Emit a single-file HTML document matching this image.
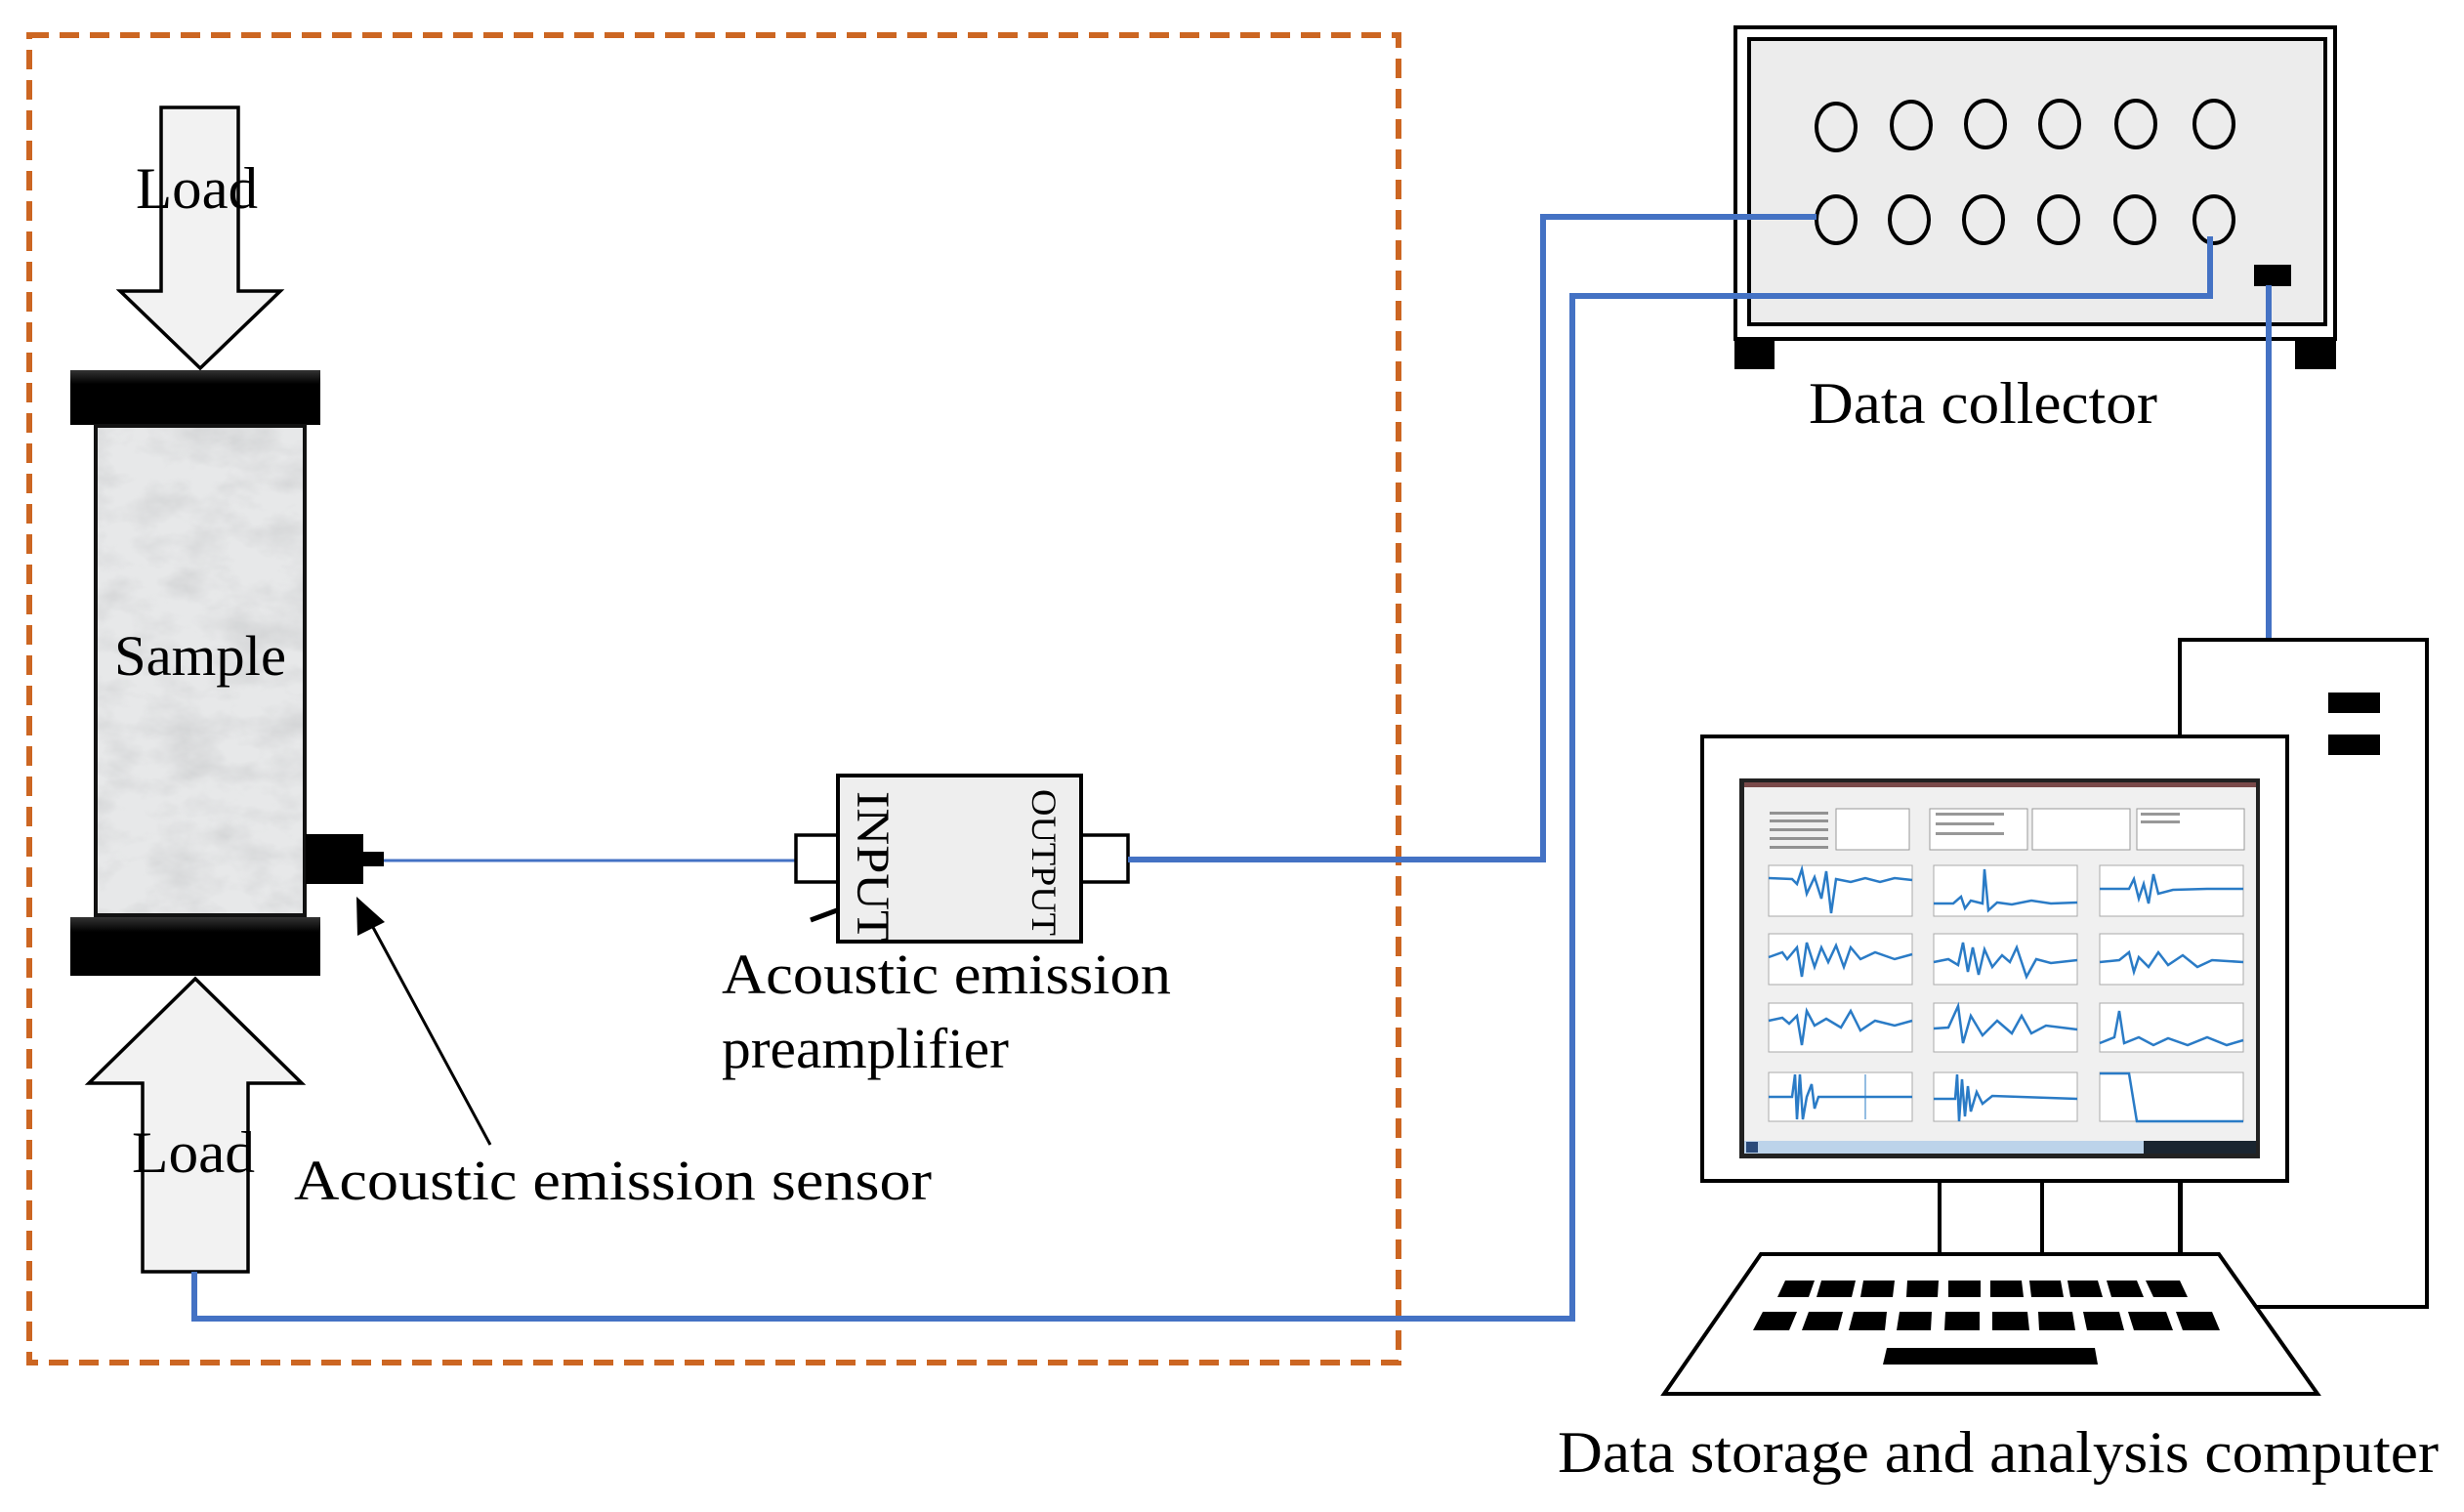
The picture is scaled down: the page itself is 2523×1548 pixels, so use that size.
<!DOCTYPE html>
<html><head><meta charset="utf-8"><style>
html,body{margin:0;padding:0;background:#fff;}
svg{display:block;}
text{font-family:"Liberation Serif",serif;fill:#000;}
</style></head><body>
<svg width="2523" height="1548" viewBox="0 0 2523 1548" xmlns="http://www.w3.org/2000/svg">
<defs>
<filter id="marble" x="0" y="0" width="100%" height="100%">
<feTurbulence type="fractalNoise" baseFrequency="0.018 0.03" numOctaves="4" seed="3"/>
<feColorMatrix type="matrix" values="0 0 0 0 0.45  0 0 0 0 0.46  0 0 0 0 0.47  1.4 0 0 0 -0.55"/>
</filter>
<linearGradient id="plate" x1="0" y1="0" x2="0" y2="1">
<stop offset="0" stop-color="#333"/><stop offset="0.25" stop-color="#000"/><stop offset="1" stop-color="#000"/>
</linearGradient>
</defs>

<!-- dashed box -->
<rect x="30" y="36" width="1402" height="1359" fill="none" stroke="#CC6622" stroke-width="6" stroke-dasharray="20,11"/>

<!-- top arrow -->
<polygon points="165,110 244,110 244,298 287,298 205,377 123,298 165,298" fill="#f2f2f2" stroke="#000" stroke-width="3.5"/>
<text x="139" y="213" font-size="60" textLength="125" lengthAdjust="spacingAndGlyphs">Load</text>

<!-- plates & sample -->
<rect x="72" y="379" width="256" height="56" fill="url(#plate)"/>
<rect x="98" y="436" width="214" height="501" fill="#e7e8e9" stroke="#111" stroke-width="4"/>
<rect x="100" y="438" width="210" height="497" fill="#000" filter="url(#marble)" opacity="0.55"/>
<rect x="72" y="939" width="256" height="60" fill="url(#plate)"/>
<text x="117" y="691" font-size="58" textLength="176" lengthAdjust="spacingAndGlyphs">Sample</text>

<!-- bottom arrow -->
<polygon points="200,1002 309,1109 254,1109 254,1302 146,1302 146,1109 91,1109" fill="#f2f2f2" stroke="#000" stroke-width="3.5"/>
<text x="135" y="1200" font-size="60" textLength="126" lengthAdjust="spacingAndGlyphs">Load</text>

<!-- sensor -->
<rect x="313" y="854" width="59" height="51" fill="#000"/>
<rect x="370" y="872" width="23" height="15" fill="#000"/>
<line x1="393" y1="881" x2="815" y2="881" stroke="#4472C4" stroke-width="3"/>

<!-- sensor arrow -->
<line x1="502" y1="1172" x2="378" y2="942" stroke="#000" stroke-width="3"/>
<polygon points="365,918 394,944 366,958" fill="#000"/>
<text x="301" y="1228" font-size="58" textLength="653" lengthAdjust="spacingAndGlyphs">Acoustic emission sensor</text>

<!-- preamp -->
<rect x="815" y="855" width="43" height="48" fill="#fff" stroke="#000" stroke-width="3.5"/>
<rect x="1107" y="855" width="48" height="48" fill="#fff" stroke="#000" stroke-width="3.5"/>
<rect x="858" y="794" width="249" height="170" fill="#eeeeee" stroke="#000" stroke-width="4"/>
<line x1="830" y1="942" x2="857" y2="932" stroke="#000" stroke-width="5"/>
<text transform="translate(878,810) rotate(90)" font-size="48" textLength="154" lengthAdjust="spacingAndGlyphs">INPUT</text>
<text transform="translate(1057,808) rotate(90)" font-size="36" textLength="150" lengthAdjust="spacingAndGlyphs">OUTPUT</text>
<text x="739" y="1017" font-size="58" textLength="460" lengthAdjust="spacingAndGlyphs">Acoustic emission</text>
<text x="739" y="1093" font-size="58" textLength="294" lengthAdjust="spacingAndGlyphs">preamplifier</text>

<!-- data collector -->
<rect x="1777" y="28" width="614" height="319" fill="#fff" stroke="#000" stroke-width="4"/>
<rect x="1791" y="40" width="590" height="292" fill="#ececec" stroke="#000" stroke-width="4"/>
<rect x="1776" y="347" width="41" height="31" fill="#000"/>
<rect x="2350" y="347" width="42" height="31" fill="#000"/>
<g fill="none" stroke="#000" stroke-width="4">
<ellipse cx="1880" cy="130" rx="20" ry="24"/><ellipse cx="1957" cy="128" rx="20" ry="24"/><ellipse cx="2033" cy="127" rx="20" ry="24"/><ellipse cx="2109" cy="127" rx="20" ry="24"/><ellipse cx="2187" cy="127" rx="20" ry="24"/><ellipse cx="2267" cy="127" rx="20" ry="24"/>
<ellipse cx="1880" cy="225" rx="20" ry="24"/><ellipse cx="1955" cy="225" rx="20" ry="24"/><ellipse cx="2031" cy="225" rx="20" ry="24"/><ellipse cx="2108" cy="225" rx="20" ry="24"/><ellipse cx="2186" cy="225" rx="20" ry="24"/><ellipse cx="2267" cy="225" rx="20" ry="24"/>
</g>
<rect x="2308" y="271" width="38" height="22" fill="#000"/>
<text x="1852" y="433" font-size="60" textLength="357" lengthAdjust="spacingAndGlyphs">Data collector</text>

<!-- blue cables (on top) -->
<polyline points="1155,880 1580,880 1580,222 1860,222" fill="none" stroke="#4472C4" stroke-width="6"/>
<polyline points="199,1302 199,1350 1610,1350 1610,303 2263,303 2263,242" fill="none" stroke="#4472C4" stroke-width="6"/>
<line x1="2323" y1="292" x2="2323" y2="655" stroke="#4472C4" stroke-width="6"/>

<!-- tower -->
<rect x="2232" y="655" width="253" height="683" fill="#fff" stroke="#000" stroke-width="4"/>
<rect x="2384" y="709" width="53" height="21" fill="#000"/>
<rect x="2384" y="752" width="53" height="21" fill="#000"/>

<!-- monitor -->
<rect x="1743" y="754" width="599" height="455" fill="#fff" stroke="#000" stroke-width="4"/>
<line x1="1986" y1="1209" x2="1986" y2="1285" stroke="#000" stroke-width="4"/>
<line x1="2091" y1="1209" x2="2091" y2="1285" stroke="#000" stroke-width="4"/>
<line x1="2233" y1="1209" x2="2233" y2="1285" stroke="#000" stroke-width="4"/>

<!-- screen -->
<rect x="1781" y="797" width="533" height="389" fill="#222"/>
<rect x="1786" y="801" width="524" height="380" fill="#f0f0f0"/>
<rect x="1786" y="801" width="524" height="5" fill="#7a4a4a"/>
<g fill="#fff" stroke="#999" stroke-width="1">
<rect x="1880" y="828" width="75" height="42"/><rect x="1976" y="828" width="100" height="42"/><rect x="2081" y="828" width="100" height="42"/><rect x="2188" y="828" width="110" height="42"/>
</g>
<g fill="#555" opacity="0.6">
<rect x="1812" y="831" width="60" height="3"/><rect x="1812" y="839" width="60" height="3"/><rect x="1812" y="848" width="60" height="3"/><rect x="1812" y="857" width="60" height="3"/><rect x="1812" y="866" width="60" height="3"/>
<rect x="1982" y="832" width="70" height="3"/><rect x="1982" y="842" width="60" height="3"/><rect x="1982" y="852" width="70" height="3"/><rect x="2192" y="832" width="40" height="3"/><rect x="2192" y="840" width="40" height="3"/>
</g>
<g fill="#fff" stroke="#aaa" stroke-width="1">
<rect x="1811" y="886" width="147" height="52"/><rect x="1980" y="886" width="147" height="52"/><rect x="2150" y="886" width="147" height="52"/>
<rect x="1811" y="956" width="147" height="52"/><rect x="1980" y="956" width="147" height="52"/><rect x="2150" y="956" width="147" height="52"/>
<rect x="1811" y="1027" width="147" height="50"/><rect x="1980" y="1027" width="147" height="50"/><rect x="2150" y="1027" width="147" height="50"/>
<rect x="1811" y="1098" width="147" height="50"/><rect x="1980" y="1098" width="147" height="50"/><rect x="2150" y="1098" width="147" height="50"/>
</g>
<g fill="none" stroke="#2a7bc6" stroke-width="2.5">
<polyline points="1811,899 1835,900 1840,905 1845,890 1850,915 1858,898 1865,920 1870,892 1875,935 1880,900 1895,903 1910,899 1925,903 1940,899 1958,901"/>
<polyline points="1980,925 2000,925 2008,918 2012,930 2018,922 2030,925 2032,890 2036,932 2045,924 2060,926 2080,922 2100,925 2127,924"/>
<polyline points="2150,910 2180,910 2185,900 2190,920 2195,905 2200,925 2205,895 2210,915 2225,911 2260,910 2297,910"/>
<polyline points="1811,980 1825,975 1830,982 1840,970 1845,1000 1850,965 1858,990 1865,970 1872,985 1880,968 1888,990 1895,970 1905,982 1920,975 1940,982 1958,977"/>
<polyline points="1980,985 1995,982 2005,988 2010,965 2015,995 2020,970 2026,998 2032,972 2040,990 2050,978 2058,985 2065,970 2075,1000 2085,982 2100,986 2127,983"/>
<polyline points="2150,985 2170,983 2180,975 2185,995 2190,980 2200,990 2210,975 2220,988 2235,978 2250,990 2265,983 2297,985"/>
<polyline points="1811,1045 1825,1042 1832,1048 1840,1040 1845,1070 1850,1035 1858,1050 1870,1043 1885,1052 1895,1035 1905,1055 1920,1045 1940,1050 1958,1045"/>
<polyline points="1980,1053 1995,1052 2005,1030 2010,1068 2018,1040 2030,1060 2045,1045 2060,1058 2070,1040 2080,1058 2095,1050 2127,1054"/>
<polyline points="2150,1068 2165,1062 2170,1035 2175,1068 2190,1062 2205,1070 2220,1063 2240,1070 2260,1062 2280,1070 2297,1065"/>
<polyline points="1811,1123 1835,1123 1838,1100 1840,1146 1843,1100 1846,1146 1850,1123 1855,1110 1858,1135 1862,1123 1958,1123"/>
<line x1="1910" y1="1100" x2="1910" y2="1146" stroke-width="1"/>
<polyline points="1980,1125 2002,1125 2004,1100 2006,1148 2009,1105 2012,1143 2015,1112 2018,1138 2024,1118 2030,1130 2040,1122 2127,1125"/>
<polyline points="2150,1099 2180,1099 2188,1148 2297,1148"/>
</g>
<rect x="1786" y="1168" width="524" height="13" fill="#bcd3ea"/>
<rect x="2195" y="1168" width="115" height="13" fill="#1a2530"/>
<rect x="1788" y="1169" width="12" height="11" fill="#2a4a7a"/>

<!-- keyboard -->
<polygon points="1803,1284 2272,1284 2373,1427 1704,1427" fill="#fff" stroke="#000" stroke-width="4"/>
<g fill="#000">
<polygon points="1828,1311 1858,1311 1852,1328 1820,1328"/>
<polygon points="1865,1311 1900,1311 1896,1328 1860,1328"/>
<polygon points="1908,1311 1940,1311 1938,1328 1905,1328"/>
<polygon points="1953,1311 1985,1311 1984,1328 1952,1328"/>
<polygon points="1995,1311 2028,1311 2028,1328 1995,1328"/>
<polygon points="2038,1311 2070,1311 2072,1328 2038,1328"/>
<polygon points="2078,1311 2110,1311 2113,1328 2080,1328"/>
<polygon points="2117,1311 2148,1311 2153,1328 2120,1328"/>
<polygon points="2157,1311 2188,1311 2195,1328 2162,1328"/>
<polygon points="2197,1311 2232,1311 2240,1328 2205,1328"/>
<polygon points="1805,1343 1840,1343 1832,1362 1795,1362"/>
<polygon points="1852,1343 1887,1343 1882,1362 1845,1362"/>
<polygon points="1898,1343 1932,1343 1930,1362 1893,1362"/>
<polygon points="1945,1343 1978,1343 1977,1362 1942,1362"/>
<polygon points="1992,1343 2027,1343 2027,1362 1991,1362"/>
<polygon points="2040,1343 2076,1343 2078,1362 2040,1362"/>
<polygon points="2087,1343 2122,1343 2125,1362 2088,1362"/>
<polygon points="2133,1343 2170,1343 2175,1362 2137,1362"/>
<polygon points="2179,1343 2218,1343 2225,1362 2185,1362"/>
<polygon points="2228,1343 2265,1343 2273,1362 2235,1362"/>
<polygon points="1932,1380 2145,1380 2148,1397 1928,1397"/>
</g>
<text x="1595" y="1507" font-size="60" textLength="902" lengthAdjust="spacingAndGlyphs">Data storage and analysis computer</text>
</svg>
</body></html>
